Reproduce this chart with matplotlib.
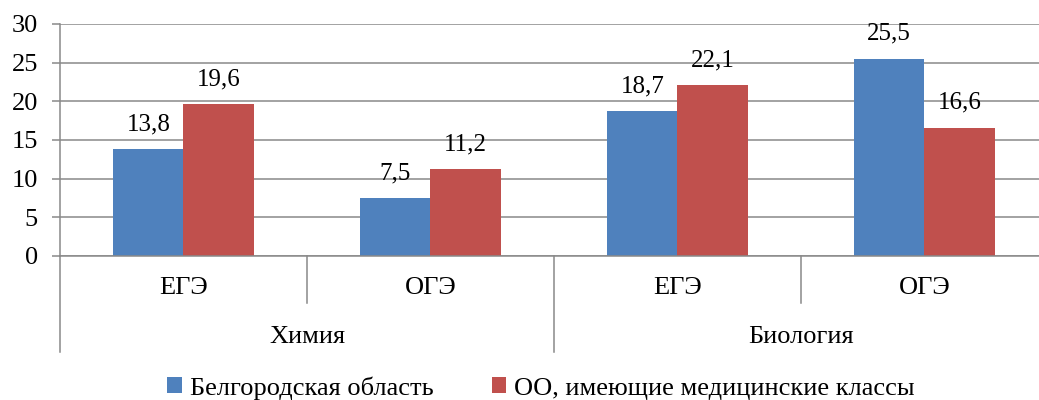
import matplotlib.pyplot as plt
import matplotlib.transforms as mtransforms
import numpy as np

plt.rcParams['font.family'] = ['Liberation Serif', 'DejaVu Serif']

exams = ["ЕГЭ", "ОГЭ", "ЕГЭ", "ОГЭ"]
subjects = ["Химия", "Биология"]
region = [13.8, 7.5, 18.7, 25.5]
med_classes = [19.6, 11.2, 22.1, 16.6]
series_names = ["Белгородская область", "ОО, имеющие медицинские классы"]
colors = ["#4F81BD", "#C0504D"]
grid_c = "#898989"

W, H = 1039, 400
fig = plt.figure(figsize=(W / 100, H / 100), dpi=100)
# plot area in pixels: x 60..1048, y 24..256 (from top)
ax = fig.add_axes([60 / W, (H - 256) / H, 988 / W, 232 / H])

x = np.arange(len(exams))
bw = 0.285
b1 = ax.bar(x - bw / 2, region, bw, color=colors[0], label=series_names[0])
b2 = ax.bar(x + bw / 2, med_classes, bw, color=colors[1], label=series_names[1])

fmt = lambda v: f"{v:.1f}".replace(".", ",")
for bars, vals in ((b1, region), (b2, med_classes)):
    for r, v in zip(bars, vals):
        ax.annotate(fmt(v), (r.get_x() + r.get_width() / 2, v),
                    xytext=(0, 10), textcoords="offset points",
                    ha="center", va="bottom", fontsize=18)

ax.set_xlim(-0.5, 3.5)
ax.set_ylim(0, 30)
ax.set_yticks(range(0, 31, 5))
ax.yaxis.grid(True, color=grid_c, linewidth=1.1)
ax.set_axisbelow(True)
ax.tick_params(axis="y", length=6, width=1.1, color=grid_c, pad=10, labelsize=19)
ax.set_xticks([])
for s in ("top", "right"):
    ax.spines[s].set_visible(False)
for s in ("left", "bottom"):
    ax.spines[s].set_color(grid_c)
    ax.spines[s].set_linewidth(1.1)

trans = mtransforms.blended_transform_factory(ax.transData, ax.transAxes)
lvl1 = -(303 - 256) / 232
lvl2 = -(352 - 256) / 232
# left axis extends down through the label rows
ax.plot([-0.5, -0.5], [0, lvl2], transform=trans, color=grid_c, lw=1.1, clip_on=False)
for xs in (0.5, 2.5):
    ax.plot([xs, xs], [0, lvl1], transform=trans, color=grid_c, lw=1.1, clip_on=False)
ax.plot([1.5, 1.5], [0, lvl2], transform=trans, color=grid_c, lw=1.1, clip_on=False)

for i, lab in enumerate(exams):
    ax.text(i, -(288 - 256) / 232, lab, transform=trans, ha="center", va="center", fontsize=19)
for j, lab in enumerate(subjects):
    ax.text(2 * j + 0.5, -(337 - 256) / 232, lab, transform=trans, ha="center", va="center", fontsize=19)

fig.legend(handles=[b1, b2], loc="center", bbox_to_anchor=(541 / W, (H - 388) / H),
           ncol=2, frameon=False, fontsize=19, handlelength=0.55, handleheight=0.55,
           handletextpad=0.3, columnspacing=2.2, borderaxespad=0)

fig.savefig("out.png", dpi=100)
